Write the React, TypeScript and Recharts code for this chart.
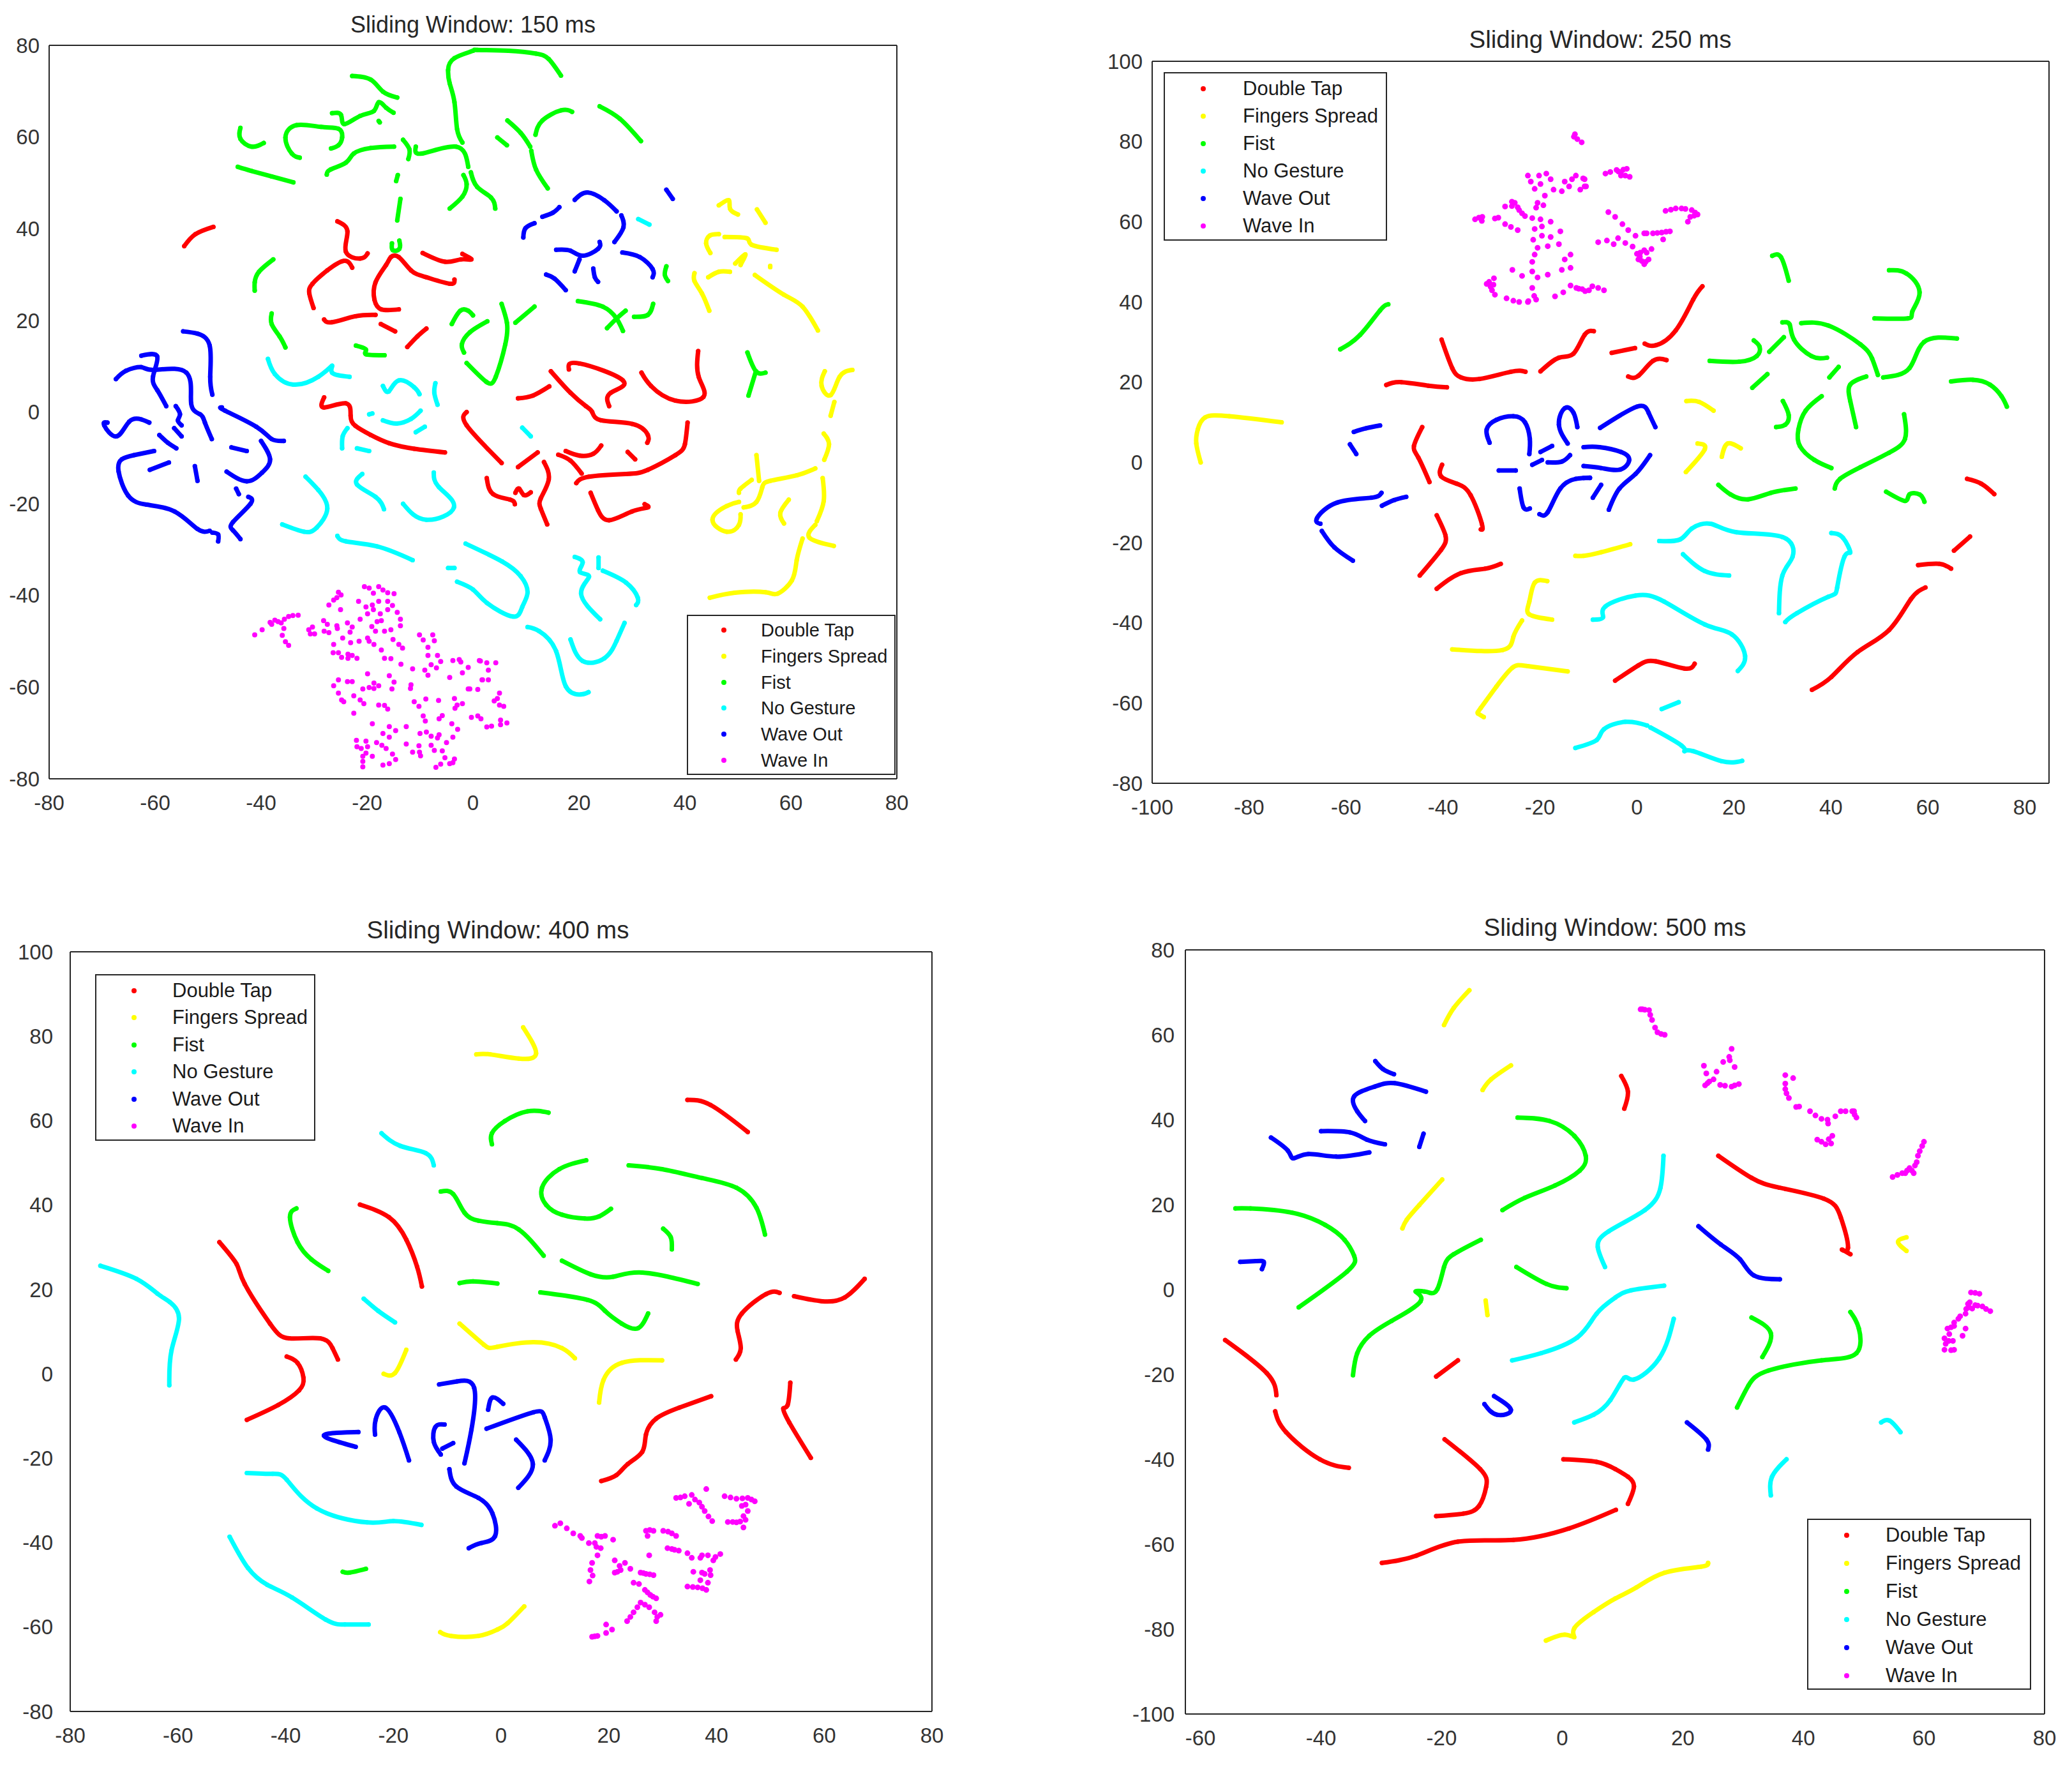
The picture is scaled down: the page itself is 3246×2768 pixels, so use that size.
import { ScatterChart, Scatter, XAxis, YAxis, Legend } from "recharts";

type Pt = [number, number];
type Stroke = Pt[];

const GESTURES = ["Double Tap", "Fingers Spread", "Fist", "No Gesture", "Wave Out", "Wave In"];
const COLORS = ["#ff0000", "#ffff00", "#00ff00", "#00ffff", "#0000ff", "#ff00ff"];
const FONT = "'Liberation Sans', Arial, sans-serif";
const INK = "#262626";

// ---------- 150 ms ----------
const doubleTap150: Stroke[] = [
  [[-54.5,36.2],[-52.4,38.8],[-49,40.4]],
  [[-25.6,41.6],[-23.7,39.4],[-24,35],[-21.3,33.5],[-19.9,34.6]],
  [[-30.1,22.7],[-30.9,25.9],[-30.3,28],[-27.5,30.9],[-24.3,33],[-22.8,31.5]],
  [[-14,22.4],[-17.3,22.4],[-18.6,24.5],[-18.4,28.3],[-16.4,32.1],[-15.5,33.8],[-14,33.8],[-11.7,30.9],[-8.8,29.4],[-4.4,28],[-3.5,28.9]],
  [[-9.5,34.7],[-5.3,32.8],[-2.3,33.3],[-0.3,33.3],[-2,34.5]],
  [[-28.1,20.2],[-26.6,19.6],[-22.2,20.9],[-18.4,21.2]],
  [[-17.4,19.2],[-14.7,17.6]],
  [[-12.4,14.2],[-10.5,16.5],[-8.8,18.2]],
  [[-28.1,3.2],[-28.1,1],[-24,1.9],[-23.1,-0.8],[-22.2,-3],[-19.3,-5],[-15.8,-6.8],[-11.1,-8],[-5.3,-8.8]],
  [[8.5,3],[11.3,3.6],[14.4,5.6]],
  [[14.7,8.9],[18.4,4.2],[21.3,1.3],[22.5,0],[24.2,-1.8],[30.1,-2.6],[33,-5],[32.9,-6.7]],
  [[18.1,9.3],[20.1,10.6],[28.3,6.9],[26,4.2],[25.7,1.3]],
  [[31.8,8.6],[33.6,5.7],[38.2,2.5],[43.5,3.3],[42.6,7.7],[42.5,13.3]],
  [[-1.2,0],[-1.2,-2.9],[5.4,-11.1]],
  [[8.5,-12],[12.2,-8.8]],
  [[13.4,-10.9],[14.3,-14.7],[12.8,-18.8],[12.8,-21.1],[14,-24.5]],
  [[2.6,-14.4],[3.8,-17.9],[7,-19.1],[7.9,-20.1]],
  [[8,-17.6],[8.7,-16.7],[9.6,-18.1],[10.9,-17.5]],
  [[16.1,-9.3],[18.4,-10.6],[20.5,-13.4]],
  [[17.5,-8.5],[20.1,-9.5],[22.7,-9.1],[24.2,-7.3]],
  [[29.2,-8.7],[30.6,-10.3]],
  [[19.5,-15.5],[21.9,-14.1],[28.9,-13.5],[33,-12.6],[38.2,-9.4],[40,-7],[40.5,-2.3]],
  [[22.2,-17.6],[23.6,-21.4],[25.7,-23.6],[30,-21.7],[33,-20.8],[32.4,-20.1]],
];
const fingers150: Stroke[] = [
  [[46.4,45.1],[48.3,46.2],[48.5,44.4],[50,43.1]],
  [[53.6,44.2],[55.2,41.3]],
  [[44.8,34.7],[44,36.8],[44.7,38.5],[46.4,38.8]],
  [[47.5,38.2],[51.7,37.9],[52.6,36.5],[57.3,35.4]],
  [[44.4,29.4],[46.4,30.6],[48.5,30.6]],
  [[49.5,32.4],[51.4,34.4],[50.5,32.1]],
  [[56.1,31.9],[56.1,31.6]],
  [[41.8,30.3],[41.8,28.6],[43.2,25.9],[44.6,22.1]],
  [[53.2,29.9],[58.7,25.6],[62.2,23],[65.1,17.8]],
  [[66.4,8.9],[65.8,5.7],[67.5,3.7],[69.2,7.7],[71.6,9.2]],
  [[68.2,2.2],[67.5,-0.8]],
  [[66.2,-4.7],[67.2,-7],[66.3,-10.4]],
  [[53.5,-9.4],[54,-15]],
  [[64.6,-12.3],[61.1,-13.8],[56.1,-15],[54.6,-16.4],[53.5,-19.6],[51.1,-20.8]],
  [[52.6,-14.8],[50.5,-16.7],[50.2,-17.6]],
  [[50.2,-19.6],[47.9,-20.5],[45.2,-23.5],[47.9,-26.1],[50.2,-24.6],[50.5,-22.3]],
  [[59.6,-19.1],[58,-22],[58.7,-24.3]],
  [[66,-14.4],[66.2,-19.4],[64.9,-23.8]],
  [[64.6,-24.6],[63.5,-27.4],[68.1,-29.2]],
  [[62.2,-27.6],[61.1,-32.3],[60.2,-36.7],[57.5,-39.6],[55.2,-39.3],[49.4,-39.4],[44.7,-40.5]],
];
const fist150: Stroke[] = [
  [[-2,58.8],[-3,61.7],[-3.5,67.6],[-4.4,71.7],[-4.7,74.6],[-3.5,77.2],[0,78.8],[0.8,79],[6.7,78.8],[11.9,78.2],[14.3,77],[16.6,73.4]],
  [[-22.8,73.3],[-19.3,72.5],[-17,69.9],[-14.3,68.6]],
  [[-26.6,65.2],[-24.9,64.8],[-24.3,62.8],[-21.3,64.6],[-18.7,65.7],[-17.8,67.6],[-16.4,66.4],[-15,65.3]],
  [[-17.8,63.5],[-17.6,63.2]],
  [[-32.7,55.5],[-34.2,56.4],[-35.4,59.9],[-33.3,62.6],[-28.7,62.2],[-25.4,61.8],[-24.7,59.9],[-25.4,58.2],[-26.8,57.5]],
  [[-43.9,62],[-43.9,59.6],[-41.8,57.9],[-39.5,58.7]],
  [[-44.4,53.5],[-41.8,52.6],[-38,51.4],[-33.9,50.1]],
  [[-27.6,51.8],[-26.9,52.9],[-24,54.4],[-22.5,56.4],[-19.3,57.6],[-14.9,57.9]],
  [[-13.2,59.4],[-12,57.3],[-12.2,55.2]],
  [[-10.8,57.9],[-9.6,56.4],[-3.2,57.9],[-0.9,53.5]],
  [[-14.2,51.7],[-14.5,50.4]],
  [[-13.7,46.5],[-14.3,41.8]],
  [[-15.3,36.8],[-15.1,35.3],[-13.9,35.6],[-13.9,37.4]],
  [[-37.7,33.3],[-40.4,30.6],[-41.2,28.3],[-41.2,26.5]],
  [[-38,21.5],[-38,19.2],[-36.5,16.5],[-35.4,14.1]],
  [[-22.1,14.5],[-20.2,13.6],[-20.2,12.6],[-16.7,12.4]],
  [[-1.8,51.7],[-1.2,49.7],[-2,47],[-4.4,44.4]],
  [[-0.4,52.3],[0.8,49.1],[3.4,46.8],[4.2,44.4]],
  [[4.6,59.9],[6.4,58.2]],
  [[6.5,63.6],[9,60.9],[10.8,57.9]],
  [[11,57],[11.9,52.9],[14.1,48.8]],
  [[11.8,60.5],[13.1,63.6],[16.6,65.8],[18.7,65.5]],
  [[23.9,66.7],[27.7,64],[31.7,59.1]],
  [[-4,19.2],[-2.4,22.1],[-0.9,22.1],[0,21.1]],
  [[2.7,19.8],[-0.6,17.4],[-2.1,14.8],[-1.7,13]],
  [[5.4,23.6],[6.4,19.5],[6.1,14.8],[4.3,7.7],[2.5,6.6],[-1.2,10.7]],
  [[8,19.5],[11.6,23]],
  [[19.8,24.2],[24.5,23],[27.1,20.4],[28.3,17.7]],
  [[25.3,18.3],[27.1,20.4],[28.8,22.1]],
  [[30.4,20.8],[33,21.2],[34,23.6]],
  [[36.5,31.8],[36.2,30],[36.8,28.6]],
  [[51.8,13],[53.4,8.9],[55.2,8.6]],
  [[53.4,8.9],[52,3.6]],
];
const noGesture150: Stroke[] = [
  [[-38.7,11.6],[-37.4,8.3],[-33.9,6],[-29.2,7.7],[-26.6,10.1],[-26.6,8.6],[-23.3,7.7]],
  [[-17,5.7],[-15.9,4.5],[-14,6.9],[-11.1,5.4],[-10.1,3.9]],
  [[-7.1,6.3],[-7.3,4.2],[-6.7,1.6]],
  [[-19.6,-0.5],[-19,-0.3]],
  [[-17,-1.8],[-14.4,-2.5],[-11.7,-1.5],[-9.9,0.3]],
  [[-10.8,-4.4],[-9.1,-3.2]],
  [[-23.7,-3.5],[-24.6,-5.3],[-24.7,-7.9]],
  [[-21.9,-7.9],[-19.6,-8.5]],
  [[-31.6,-14.1],[-29.2,-17],[-27.5,-21.1],[-29.5,-25.2],[-31.9,-26.1],[-36,-24.5]],
  [[-20.9,-13.5],[-21.9,-15.8],[-18.4,-18.5],[-16.8,-21.2]],
  [[-7.4,-13.2],[-6.4,-16.4],[-3.6,-20.8],[-8.8,-23.5],[-13.2,-20]],
  [[-25.6,-27],[-24,-28.2],[-18.1,-29.3],[-11.4,-32.3]],
  [[-4.7,-34],[-3.5,-34]],
  [[-1.4,-28.7],[5.5,-32.6],[9,-35.8],[10.3,-39.3],[9.3,-42.5],[7.5,-44.6],[2.6,-41.6],[0,-38.7],[-3,-37]],
  [[9.3,-3.4],[10.9,-5.3]],
  [[19.2,-31.6],[20.7,-32.8],[20.2,-34.9],[21.9,-35.9],[20.4,-39.6],[24,-45.2]],
  [[23.7,-31.7],[23.7,-34]],
  [[24.5,-34.6],[28.9,-37.2],[31.1,-40.5],[30.8,-42.1]],
  [[28.6,-46],[27.1,-49.9],[24.8,-53.7],[20.7,-54.3],[18.4,-49.6]],
  [[10.3,-46.9],[12.5,-47.8],[15.7,-52.2],[17.5,-59.8],[20.4,-61.6],[21.8,-61.1]],
  [[31.2,42.1],[33.3,40.9]],
];
const waveOut150: Stroke[] = [
  [[19.2,46.3],[21.6,47.9],[24.8,46.2],[27.1,43.8]],
  [[28,42.9],[28.4,40.3],[26.7,37.1]],
  [[16.3,44.7],[15.1,43.5],[13.1,42.6]],
  [[11.6,41.2],[9.9,40.1],[9.5,38.1]],
  [[15.7,35.4],[18.4,35.2],[20.7,34.1],[23.6,35.6],[23.9,37.1]],
  [[20.1,33.3],[19.2,30.7]],
  [[22.7,31.3],[23,29.4],[23.6,28.4]],
  [[28.2,34.8],[31.5,33.8],[33.9,31.2],[33.9,29.4]],
  [[13.8,30],[15.4,29.1],[17.5,26.6]],
  [[36.5,48.5],[37.7,46.5]],
  [[-67.4,7.2],[-65.5,9],[-62.6,9.8],[-60.2,9.2],[-54.1,8.6],[-53.2,1.9],[-51.5,-0.5],[-50.6,-2.3],[-49.3,-5.9]],
  [[-62.6,12.3],[-59.6,12.1],[-60.4,7.7],[-59.6,4.8],[-57.9,1.3]],
  [[-54.7,17.6],[-52,17.1],[-49.7,14.5],[-49.6,7.7],[-49.2,3.8]],
  [[-56.1,1.3],[-55.3,-0.5],[-55.7,-1.8],[-55,-2.9]],
  [[-56.4,-3.5],[-55,-5.3]],
  [[-47.4,1],[-46.8,0.3],[-40.9,-3.2],[-38,-5.9],[-35.7,-6.3]],
  [[-69,-2.3],[-69.6,-2.9],[-67.3,-5.3],[-64.9,-2.1],[-62.6,-1.6],[-61.1,-2.3]],
  [[-59.2,-5],[-57.6,-6.7],[-56,-7.9]],
  [[-60.2,-8.5],[-64,-9.4],[-66.3,-10.3],[-66.9,-12.9],[-65.1,-18.2],[-61.6,-20.2],[-56.3,-21.7],[-52,-25.5],[-49.7,-25.9]],
  [[-61,-12.6],[-57.4,-11]],
  [[-52.5,-11.8],[-52,-15]],
  [[-45.6,-7.7],[-42.7,-8.5]],
  [[-40,-6.3],[-38.3,-10.3],[-39.8,-13.2],[-42.7,-15.1],[-46.5,-13]],
  [[-44.7,-16.7],[-44.2,-17.9]],
  [[-42.4,-18.5],[-42,-20],[-45.3,-24],[-45.3,-25.8],[-43.9,-27.7]],
  [[-49.2,-26.3],[-48.1,-26.7],[-48.1,-28.2]],
];
const waveIn150: Pt[] = [
  [-41.2,-48.6],[-39.8,-47.5],[-38,-46.3],[-38.3,-45.9],[-36.8,-45.7],[-37.4,-45.4],[-36.2,-46],[-35.6,-45.2],[-34.8,-44.6],[-34,-44.4],[-33,-44.3],
  [-35.7,-47.2],[-36,-48.7],[-35.4,-50.1],[-34.8,-50.9],[-31,-47.5],[-30.3,-46.9],[-30.7,-48.4],[-29.9,-48.4],
  [-28.2,-45.5],[-27.5,-46.3],[-28.1,-47.8],[-27.2,-48.1],[-25.7,-46.6],[-25.6,-47.2],[-23.7,-46],[-22.8,-46.9],[-23.2,-48],
  [-27.2,-42.1],[-26.3,-41],[-25.4,-39.3],[-24.9,-39.9],[-25.7,-40.5],[-25,-43.1],[-24.6,-49.3],[-23.1,-50.3],[-21.5,-50],[-26.3,-50.7],[-26.4,-52.5],[-25.4,-52.5],[-24.8,-53.5],[-23.6,-52.8],[-22.8,-53.1],[-21.9,-53.7],[-23.6,-53.7],
  [-20.5,-38.1],[-19.6,-38.4],[-18.8,-39.5],[-17.8,-38.1],[-17,-38.8],[-16.1,-39.4],[-14.9,-39.6],
  [-21.6,-41.3],[-20.2,-42.5],[-19,-42.1],[-17.8,-41.3],[-16.1,-41.3],[-15.2,-42.2],[-19.9,-44],[-18.8,-43.1],[-17.5,-44],[-16.1,-43.1],[-14.3,-43.7],[-13.7,-45.2],[-21.3,-45.2],[-18.1,-45.7],[-17.3,-45.5],[-19.1,-46.8],[-18.4,-47.8],[-16.7,-47.8],[-15.5,-47.5],[-13.7,-46.6],
  [-19.9,-49.3],[-19.6,-50],[-18.7,-50.7],[-15.1,-49.6],[-14,-50.7],[-13.3,-51.5],[-17.3,-51.9],[-16.7,-53.7],[-15.5,-53.8],
  [-13.6,-55],[-11.4,-56],[-10.1,-48.6],[-9.4,-49.7],[-7.6,-48.6],[-7.3,-49.9],[-8.5,-51.3],[-8.5,-53.1],[-6.7,-53.1],[-6.1,-54.4],[-7.9,-55.1],[-6.9,-55.8],[-9.1,-56.3],[-8.5,-57.4],
  [-3.8,-54.2],[-2.6,-54],[-2.3,-54.5],[1.2,-54.2],[-0.9,-55.7],[-2,-56.9],[-4.4,-57.9],[1.8,-58.4],
  [-19.9,-57.1],[-15.8,-57.5],[-25.4,-58.4],[-23.7,-58.8],[-22.8,-58.8],[-26.3,-59.7],[-25.4,-61.3],[-24.8,-62.8],[-24.4,-63.2],
  [-20.8,-60.4],[-19.6,-60.1],[-18.7,-59.1],[-17.8,-59.7],[-18.7,-60.3],[-14.9,-58.9],[-15.3,-60.4],[-11.7,-59.5],[-11.8,-60.3],
  [-22.5,-61.9],[-21.3,-62.8],[-20.6,-63.6],[-17.8,-63.9],[-16.7,-64],[-16.1,-64.8],[-22.5,-65.7],[-11.1,-63.2],[-10.2,-64.2],[-8.9,-62.6],[-6.5,-62.9],[-3.5,-62.5],[-3,-63.9],[-2,-63.6],[-3.4,-64.6],
  [-0.9,-60.4],[0.9,-60.5],
  [-9.4,-66.3],[-9,-67.4],[-6.4,-66.9],[-5.8,-66.2],[-19,-68],[-15.8,-68.6],[-12.6,-68.6],[-4,-68],[-2.9,-69.2],
  [-0.3,-66.6],[0.9,-66.3],[1.5,-66.9],
  [-17,-70.1],[-14.6,-69.5],[-15.8,-70.9],[-10,-70.1],[-8.8,-69.8],[-7.9,-70.7],[-6.4,-70.4],[-6.7,-71.1],[-3.8,-70.9],
  [-22,-71.6],[-20.2,-71.8],[-21.9,-73],[-21.1,-73.4],[-19.9,-73],[-18.2,-72.1],[-17.2,-72.7],[-16.4,-73.4],[-12.6,-72.4],[-10.2,-72.8],[-7.9,-72.7],[-7.3,-73.8],[-5,-72.1],[-5.8,-73.9],
  [-11.4,-74.2],[-10.1,-74.2],[-9.9,-75],[-20.2,-74.4],[-20.8,-75.1],[-19,-75.1],[-15.2,-74.6],[-20.8,-76.2],[-20.8,-77.4],[-17,-77],[-15.8,-76.7],[-14.6,-75.8],[-7,-77.5],[-6.1,-76.8],[-5.3,-75.4],[-4.4,-76.7],[-3.5,-75.7],[-3.8,-76.5],
  [1.4,-54.3],[2.6,-54.7],[4.3,-54.7],[2.9,-56.3],[1.7,-58.4],[2.9,-58.4],[-0.6,-60.4],[5,-61.3],[4,-63],[5,-63.9],[5.8,-64.2],[4.6,-62.5],
  [2.6,-68.7],[3.5,-68.5],[5.2,-67.2],[5.2,-68.2],[6.4,-67.8],
];

// ---------- 250 ms ----------
const doubleTap250: Stroke[] = [
  [[-40.3,30.6],[-38.1,23.5],[-36.3,21.2],[-32.5,20.8],[-26,22.6],[-23,22.6]],
  [[-51.7,19.3],[-48.6,20],[-43,19.1],[-39.2,18.7]],
  [[-19.9,22.7],[-16.1,26.1],[-13.1,27.1],[-10.8,31.8],[-8.9,32.7]],
  [[-5.2,27.3],[-0.4,28.5]],
  [[1.6,29.6],[3.9,29.2],[8,32.9],[11.6,40.6],[13.5,43.9]],
  [[-1.8,21.4],[0.3,21.6],[3.3,25.3],[6.1,25.5]],
  [[-44.3,8.8],[-46,4.1],[-45.1,1.2],[-42.8,-4.9]],
  [[-40.2,-0.6],[-40.4,-3.5],[-37.2,-5.3],[-34.3,-8.2],[-32,-15.3],[-32.2,-16.7]],
  [[-41.3,-13.2],[-39.5,-18.2],[-40.4,-21.8],[-44.8,-28.2]],
  [[-41.3,-31.5],[-36.3,-27.6],[-31.3,-26.5],[-28.1,-25.3]],
  [[-4.5,-54.4],[0.3,-50.6],[3.9,-49.6],[9.8,-51.4],[11.9,-50.2]],
  [[36.1,-56.7],[40.1,-53.5],[45.5,-47.3],[52,-41.8],[56.5,-34.1],[59.5,-31.2]],
  [[58,-25.6],[62.4,-25.3],[64.8,-26.5]],
  [[65.4,-22],[68.7,-18.5]],
  [[68.1,-4.1],[71,-5.3],[73.7,-7.9]],
];
const fingers250: Stroke[] = [
  [[-73.3,10],[-84.1,11.5],[-89.1,11.2],[-90.6,8.2],[-90.9,4.7],[-90,0]],
  [[-38.1,-46.6],[-27.8,-46.8],[-25.5,-43.5],[-23.7,-39.4]],
  [[-31.6,-63.5],[-32.8,-62.6],[-32.2,-61.2],[-29,-55.9],[-25.7,-51.2],[-22.5,-50.8],[-14.3,-52.1]],
  [[-17.5,-39.2],[-22.2,-37.9],[-22.2,-34.7],[-21.1,-30],[-18.5,-29.6]],
  [[-12.7,-23.3],[-11,-23.3],[-7.4,-22.4],[-1.4,-20.4]],
  [[10.2,15.3],[12.8,15.1],[15.8,12.9]],
  [[12.5,4.7],[14,3.3],[10.1,-2.4]],
  [[17.5,1.4],[18.7,4.7],[21.4,3.5]],
];
const fist250: Stroke[] = [
  [[-61.2,28.2],[-57.1,31.8],[-53,37.9],[-51.3,39.4]],
  [[27.9,51.5],[29.7,51.2],[31.3,45.3]],
  [[52,47.9],[55.6,47.1],[58.3,42.4],[56.8,37.6],[55.9,35.9],[49,35.9]],
  [[15,25.3],[21.1,25.1],[24.7,26.5],[25.3,28.8],[24.1,30.4]],
  [[27.3,27.6],[30.3,31.2]],
  [[30,34.9],[31.5,34.4],[32.4,30.6],[36,26.5],[39.2,26.1]],
  [[33.9,34.7],[39.5,34.1],[46.1,29.4],[48.5,25.9],[49.7,21.8]],
  [[50.8,21.2],[56.2,23.5],[59.2,30],[66,30.9]],
  [[39.7,21.2],[41.6,23.8]],
  [[23.8,18.6],[26.9,22]],
  [[47.3,21.4],[44,19.4],[44,15.3],[45.2,8.8]],
  [[64.8,20.2],[69.3,20.6],[72.8,19.4],[75.2,16.5],[76.3,13.9]],
  [[30.1,15.3],[31.3,11.8],[30.6,9.4],[28.7,8.8]],
  [[38.1,16.5],[34.8,12.9],[33.3,8.2],[33.6,4.1],[36.6,0.6],[40.1,-1.4]],
  [[55.1,12],[55.3,5.9],[52,2.4],[46.1,-1.2],[41.9,-4.1],[40.8,-6.5]],
  [[16.8,-5.6],[19.3,-8],[22.9,-9.2],[27.6,-7.6],[32.7,-6.5]],
  [[51.4,-7.3],[55.3,-9.6],[56.2,-8],[58.3,-8],[59.3,-9.8]],
];
const noGesture250: Stroke[] = [
  [[4.6,-19.6],[8.9,-19.2],[11.3,-16.5],[15.2,-15.3],[20.5,-17.4],[30,-18.6],[32.1,-23.5],[30,-28.2],[29.3,-37.6]],
  [[9.5,-22.9],[14,-27.1],[19,-28.2]],
  [[40.1,-17.6],[42.5,-18.8],[44,-22.4],[42.8,-23.5],[41.3,-31.2],[39.5,-33.5],[33,-37.6],[30.6,-39.8]],
  [[-9.1,-39.2],[-7,-38.6],[-6.5,-35.9],[-0.3,-33.2],[5.6,-34.7],[14,-40.4],[19.6,-42.9],[22.3,-48.2],[20.8,-52]],
  [[5.1,-61.5],[8.6,-59.8]],
  [[-12.7,-71.2],[-8.3,-69.2],[-6.8,-66.5],[-2.4,-64.7],[2.1,-65.6]],
  [[2.8,-66.1],[9.2,-70.6],[9.8,-72],[11.6,-72],[17.5,-74.5],[21.7,-74.4]],
];
const waveOut250: Stroke[] = [
  [[-58.4,7.6],[-55.9,8.5],[-53,9.2]],
  [[-59.2,4.5],[-57.9,2.1]],
  [[-52.7,-7.6],[-54.8,-8.8],[-61.8,-10],[-66,-13.9],[-65.3,-15.3]],
  [[-65,-17.1],[-62.4,-21.2],[-58.6,-24.5]],
  [[-52.6,-10.8],[-50.1,-9.4],[-47.6,-8.6]],
  [[-30.4,4.9],[-31,8.2],[-29,10.6],[-25.5,11.5],[-23.1,10],[-22.1,5.9],[-22.2,2.1]],
  [[-19.9,2.6],[-17.5,4.1]],
  [[-21.6,-0.6],[-19.6,0.6]],
  [[-18.4,0],[-15.5,0.2],[-13.8,1.8]],
  [[-28.5,-2],[-25,-2]],
  [[-24.2,-6.5],[-23.4,-11.2],[-22.1,-11.5]],
  [[-20.1,-12.9],[-18.4,-12.4],[-15.8,-6.5],[-12.6,-4.1],[-9.7,-3.8]],
  [[-14.3,4.7],[-16.1,9.4],[-14.9,13.5],[-13.1,12.4],[-12.3,8.8]],
  [[-7.6,8.6],[0,13.9],[2.4,12.4],[3.8,8.8]],
  [[-11,3.8],[-7.7,3.8],[-3.3,2.6],[-1.6,0.6],[-3.5,-1.8],[-7.4,-1.4],[-11,-0.9]],
  [[-11,-3.9],[-9.7,-3.9]],
  [[-9.1,-8.8],[-7.4,-5.6]],
  [[-5.8,-11.8],[-3.6,-6.5],[-0.3,-2.9],[2.7,1.8]],
];
const waveIn250: Pt[] = [
  [-12.8,81.8],[-13,81.2],[-12.3,80.6],[-11.4,79.8],[-22.5,71.5],[-21.9,70],[-20.2,71.5],[-18.7,72],[-17.8,70.6],[-19.9,69.4],[-21.1,68.2],[-17.2,68],[-15.5,67.6],[-14.9,70],[-13.4,70.6],[-12.6,71.5],[-11.1,70.8],[-10.5,68.8],[-14,68.8],[-11.7,68],
  [-20.5,64.7],[-19,66.5],[-20.8,63.5],[-19.3,64.1],[-27.2,63.8],[-25.2,64.7],[-25.8,63.9],[-25.8,65],[-24.6,63.6],[-24.3,62.9],[-23.7,62.1],[-23.1,61.4],[-21.6,60.9],[-33.4,60.6],[-32.6,61],[-32,60.2],[-31.9,61.2],[-29.3,60.8],[-28.6,61],[-27.2,59.4],[-26,58.7],[-24.6,57.9],
  [-19.9,60.6],[-21.1,58.2],[-19.6,58.8],[-17.8,60],[-15.8,57.6],[-21.4,55.5],[-19.6,56.5],[-17.8,56.2],[-18.4,53.9],[-16.1,54.4],[-20.5,53.5],[-21.1,51.8],[-21.6,50],
  [-13.7,51.8],[-14.9,50.6],[-15.5,48],[-13.7,48.5],[-25.7,48],[-23.7,46.5],[-21.6,47.6],[-20.5,46.1],[-18.4,46.8],[-21.6,43.5],
  [-31,44.5],[-30.5,45],[-30.2,43.8],[-29.6,44.3],[-29.5,45.9],[-29.9,42.9],[-29.3,41.8],[-26.9,40.9],[-25.5,40.3],[-24.3,40],[-22.5,40],[-22.4,40.2],[-21.2,41.5],[-20.8,40.6],[-16.9,41.4],[-15.2,42.4],[-13.7,44.1],[-12.5,43.5],[-12,43.3],[-11.3,43.2],[-10.7,42.7],[-9.9,42.9],
  [-9.2,43.9],[-8,43.5],[-6.8,42.9],[-6.5,72],[-5.5,72.4],[-4.2,72.9],[-3.8,72.5],[-2.8,73],[-3.3,72.3],[-2.4,71.5],[-2.1,73.2],[-1.5,71.2],[-3.3,71.5],[-5.9,62.4],[-4.5,61.2],
  [5.9,62.7],[7,63],[8,63.3],[9.2,63.3],[10,63.2],[11.3,62.9],[12,62.3],[12.5,61.8],[11.8,61.5],[11,61.2],[10.5,60],[-3,59.4],[-1.8,57.9],[-0.3,56.5],[1.5,57.1],[2,57.1],[3.3,57.1],[4.2,57.2],[5.1,57.3],[6,57.5],[6.8,57.6],[5.4,55.6],
  [-8,54.9],[-6.2,55.3],[-4.8,54.4],[-3.9,55.9],[-2.4,54.7],[-0.9,53.8],[0,52],[0.7,52.3],[1.5,52.9],[2,52.3],[3,53.2],[0.3,50.6],[0.6,51.3],[1,50.2],[1.8,50],[1.5,49.4],[2.4,50.6],[-10.8,70.6],[-10.8,68.8],
];

// ---------- 400 ms ----------
const doubleTap400: Stroke[] = [
  [[-52.3,31.2],[-49.1,26],[-47.6,21.3],[-42.9,11.9],[-39.3,8.4],[-33.6,8.4],[-31.3,6.1],[-30.3,3.4]],
  [[-26.2,40.1],[-20.8,37.1],[-17.6,31.8],[-15.6,25.4],[-14.7,20.7]],
  [[-39.8,4.1],[-37.8,2.6],[-36.7,-0.9],[-37.5,-3.9],[-41.4,-7.4],[-47.2,-10.9]],
  [[34.6,64.9],[38.9,63.7],[45.8,57.3]],
  [[51.7,19.2],[49.2,18.9],[44.7,14.3],[43.9,10.2],[44.5,6.1],[43.6,3.4]],
  [[54.4,18.4],[59.6,17.2],[63.8,18.1],[67.5,22.5]],
  [[53.7,-2.1],[53.2,-7.4],[52.4,-8.2],[53.5,-11.5],[57.5,-19.9]],
  [[39,-5.3],[33.1,-8],[28.8,-10.6],[26.9,-14.4],[26.2,-18.5],[23.5,-21.4],[21.4,-24],[18.6,-25.4]],
];
const fingers400: Stroke[] = [
  [[-4.6,75.7],[-2,75.7],[3.3,74.7],[6.5,75.9],[4.1,82.1]],
  [[-7.7,11.9],[-3.2,6.9],[-0.7,6.4],[6,7.5],[11.3,6.1],[13.7,3.7]],
  [[-21.8,0],[-19.7,0.2],[-17.6,5.7]],
  [[18.2,-6.8],[19,-1.5],[22.4,2.6],[29.9,3.2]],
  [[-11.3,-61.2],[-9.3,-62.1],[-4.2,-62.1],[-0.7,-60.6],[1.2,-59.1],[4.3,-55.1]],
];
const fist400: Stroke[] = [
  [[-38,39.2],[-39.2,37.1],[-37.8,31.2],[-35.2,27.1],[-32.1,24.4]],
  [[-11.2,43.2],[-8.9,42.6],[-6.8,38.2],[-4.2,36.3],[-0.7,35.7],[3.3,34.2],[7.9,28]],
  [[-29.4,-46.9],[-28.2,-47.1],[-25.1,-46.2]],
  [[-7.7,21.5],[-5.2,21.9],[-0.7,21.4]],
  [[-1.7,54.4],[-1.7,57],[0.7,59.9],[4.9,62.2],[8.8,61.9]],
  [[15.8,50.6],[10.8,48.5],[7.6,44.1],[8.4,40],[11.3,37.7],[15.5,36.8],[18.2,37.3],[20.4,39.1]],
  [[23.7,49.4],[29.9,48.5],[37.3,46.4],[43.7,44.1],[47.4,39.4],[49,33]],
  [[30.1,34.4],[31.5,32.4],[31.7,29.5]],
  [[11.3,26.8],[16.6,23.6],[20.8,23],[26.2,24],[36.5,21.3]],
  [[7.3,19.3],[16.1,17.5],[19.3,14.9],[22.4,11.9],[25.4,10.8],[27.3,14.3]],
];
const noGesture400: Stroke[] = [
  [[-74.4,25.6],[-67.7,22.5],[-63.8,19],[-61.5,17],[-59.8,13.1],[-61.2,5.5],[-61.6,-2.7]],
  [[-22.2,57],[-18.7,54],[-14,52.3],[-12.5,49.4]],
  [[-25.5,17.8],[-22.8,14.9],[-19.7,12.2]],
  [[-47.2,-23.5],[-42.4,-23.7],[-39.8,-25.1],[-34.2,-31.9],[-24.9,-35.2],[-20,-34.9],[-14.8,-35.8]],
  [[-50.4,-38.6],[-47,-46],[-43.4,-50],[-38.8,-53],[-32.6,-58.2],[-29,-59.4],[-24.6,-59.4]],
];
const waveOut400: Stroke[] = [
  [[-26.5,-13.8],[-32.9,-14.6],[-27,-17.3]],
  [[-23.4,-14.4],[-23.3,-10.9],[-21.5,-8],[-18.9,-13.8],[-17.1,-20.5]],
  [[-10.5,-12],[-12.2,-12.6],[-12.5,-16.1],[-11.2,-19.1]],
  [[-8.9,-16.4],[-10.9,-17.7]],
  [[-11.5,-2.5],[-8.2,-1.8],[-5,-3.3],[-5.5,-13.2],[-6.8,-21.2]],
  [[-9.6,-22.6],[-8.3,-26.7],[-4.2,-29.4],[-1.6,-33.1],[-1.1,-38.4],[-3.7,-40.1],[-6,-41.3]],
  [[-2.4,-8.5],[-1.6,-5.6],[0.4,-7.1]],
  [[-2.7,-13],[6,-9.1],[8.1,-10.3],[9.2,-15.6],[8.1,-20.5]],
  [[2.8,-15.6],[5.9,-21.4],[3.2,-27]],
];
const waveIn400: Pt[] = [
  [10,-36],[11,-35.4],[12.2,-36.6],[13.4,-37.8],[14.7,-38.4],[15,-38.9],[16.3,-40.1],[17.9,-38.4],[18.6,-38.6],[19.3,-38.4],[20.8,-39.3],[17.4,-40.1],[18.5,-41.3],[17.7,-41],[17.9,-43],[16.9,-44.8],[16.6,-46.5],[17,-47.8],[16.4,-49.2],
  [21.1,-44.2],[21.1,-47.1],[21.6,-46.9],[22,-45.5],[22.2,-46.5],[23,-44.8],[24,-46.2],[25.9,-47.1],[26.4,-47.2],[26.9,-47.4],[27.6,-47.5],[28.3,-47.7],[24.6,-49.5],[25.6,-49.8],[26.7,-51.2],[27.2,-51.8],[27.7,-52.4],[28.2,-52.8],[28.8,-53.2],
  [26.9,-37.2],[27.6,-37],[28.3,-37.2],[27.2,-38.4],[27.5,-43],[30.1,-37.2],[31,-37.4],[31.7,-37.8],[32.5,-38.4],[30.9,-41.3],[31.7,-41.5],[32.2,-41.7],[33,-41.9],[34.6,-42.5],[35.4,-43.6],[37,-43.6],[37.3,-43],[38.4,-43],[39.8,-43.4],[39.4,-44.2],[40.7,-42.7],
  [35.7,-46.9],[37.3,-47.1],[37.8,-47.4],[38.8,-46.5],[38.9,-47.7],[37,-48.9],[38.4,-49.5],[34.6,-50.4],[35.6,-50.5],[36.5,-50.6],[37.4,-50.8],[38.1,-51.2],
  [32.5,-29.4],[33.3,-29.3],[34.1,-29],[35.4,-28.7],[34.9,-30.8],[36,-29.8],[36.8,-30.5],[37.3,-31.5],[37.8,-32.5],[38.5,-33.8],[39.2,-34.9],[38.1,-27.3],
  [41.5,-29],[42.6,-29.3],[43.7,-29.6],[44.8,-29.5],[45.8,-29.4],[46.5,-29.8],[47.1,-30.2],[44.7,-31.3],[45.4,-31],[45.8,-32.5],[45,-33.7],[45.4,-34.6],[42.1,-35.1],[43,-35.1],[43.7,-35.2],[44.4,-35],[45,-36.4],
  [25.9,-54.2],[25.3,-55.3],[24.6,-56.5],[24,-57.6],[23.4,-58.6],[26.7,-54.7],[28.5,-56.5],[28.8,-58.6],[29,-57.6],[29.6,-57.1],[27.5,-55.3],
  [16.9,-62.3],[17.4,-62.2],[17.9,-62.1],[19.5,-59.4],[19.5,-61.4],[20.6,-60.6],
];

// ---------- 500 ms ----------
const doubleTap500: Stroke[] = [
  [[-55.9,-11.9],[-49,-19.7],[-47.4,-24.9]],
  [[-47.6,-28.7],[-45.8,-33.6],[-40.2,-40],[-35.4,-42]],
  [[-20.9,-20.5],[-17.3,-16.7]],
  [[-19.5,-35.3],[-13.6,-42.3],[-12.6,-46.4],[-13.8,-51],[-16.4,-52.8],[-20.9,-53.4]],
  [[-29.9,-64.4],[-24.2,-62.7],[-17.3,-59.4],[-8.1,-59],[1.1,-56.3],[8.9,-51.9]],
  [[0.2,-40],[5.7,-40.6],[8.8,-42.3],[10.9,-44.1],[11.9,-46.4],[10.9,-50.5]],
  [[9.8,50.3],[10.9,46.6],[10.3,42.6]],
  [[25.9,31.5],[31.4,26.3],[36,24],[43.4,21.4],[46.2,17],[47.4,9.8],[46.4,9.4],[47.8,8.3]],
];
const fingers500: Stroke[] = [
  [[-15.4,70.5],[-18,66.3],[-19.6,62.3]],
  [[-8.5,52.8],[-11.8,49.5],[-13.2,47]],
  [[-19.9,25.9],[-23.7,19.9],[-25.8,16.4],[-26.5,14.4]],
  [[-12.7,-2.6],[-12.4,-6]],
  [[-2.7,-82.7],[0.4,-81.3],[2,-81.9],[2,-79.8],[5.2,-76],[8.8,-72.8],[12.3,-70.2],[17,-66.7],[23,-65.3],[24.2,-64.4]],
  [[57.1,12.3],[55.7,11.2],[57.1,9.1]],
];
const fist500: Stroke[] = [
  [[-7.4,40.5],[-2.1,39.7],[2,36.2],[3.9,31.5],[2.9,28],[-1.2,24.5],[-6.2,21.6],[-9.9,18.7]],
  [[-54.2,19.1],[-51.7,19.1],[-44.8,18.1],[-39.3,15.2],[-36.1,11.7],[-34.5,7.9],[-35.7,4.2],[-43.7,-4.2]],
  [[-13.5,11.7],[-18,8.3],[-19.6,5.3],[-20.7,0.1],[-21.9,-0.8],[-22.8,-0.5],[-24.3,-0.5],[-23.5,-2.8],[-28.3,-7.4],[-32,-10.9],[-34,-15],[-34.7,-20.2]],
  [[-7.6,5.3],[-2.6,1.3],[0.7,0.3]],
  [[31.4,-6.6],[34.6,-10.3],[33.2,-15.9]],
  [[47.8,-5.3],[49.2,-9.2],[48.8,-15],[43,-16.7],[34.2,-19.1],[30.9,-22.6],[29,-27.8]],
];
const noGesture500: Stroke[] = [
  [[16.8,31.5],[16.3,24],[13.7,18.7],[7.7,13.7],[5.9,10],[7.1,5.3]],
  [[-8.3,-16.7],[-3.5,-15],[2.5,-11.3],[5.7,-5.7],[8.8,-1.9],[11.4,-0.2],[16.9,0.9]],
  [[2,-31.3],[5.2,-29.5],[8,-26],[10.3,-20.8],[11.9,-21.2],[16.1,-16.2],[18.5,-6.9]],
  [[52.9,-31.3],[54.3,-30.9],[56.1,-33.6]],
  [[37.2,-40],[34.8,-44.1],[34.6,-48.5]],
];
const waveOut500: Stroke[] = [
  [[-31,53.8],[-29.7,51.9],[-27.9,50.7]],
  [[-22.6,46.6],[-27.8,48.6],[-31.1,47.8],[-34.5,45.5],[-34,42],[-32.7,39.7]],
  [[-40,37.3],[-35.2,37],[-32.4,35.3],[-29.4,34.2]],
  [[-48.3,35.8],[-45.5,32.7],[-44.6,30.9],[-42.1,31.9],[-37.5,31.3],[-32,32.3]],
  [[-23,36.7],[-23.7,33.6]],
  [[-53.4,6.5],[-50.8,6.7],[-49.5,6.5],[-49.8,4.8]],
  [[-12.9,-27],[-10.8,-29.5],[-8.5,-28.4],[-11.3,-25.1]],
  [[22.6,14.9],[26.3,10.6],[29.5,7.1],[31.8,3.3],[36.1,2.4]],
  [[20.7,-31.3],[23.9,-35.3],[24.2,-37.7]],
];
const waveIn500: Pt[] = [
  [13,66],[13.3,66],[13.7,65.9],[14.4,65.8],[14.6,64.7],[14.9,63.5],[15.4,61.7],[15.8,60.6],[16.4,60.2],[17,60],
  [23.5,52.7],[23.9,50.9],[25.6,51.3],[25.1,49.5],[24.1,48.6],[23.7,48.1],[26.7,53.6],[27.7,54.8],[28.1,56.7],[27.8,54],[28.6,52.4],[26.2,48.2],[27,48],[28.1,47.8],[28.6,48.1],[29.3,48.4],[24.4,49],
  [37,50.5],[38.3,49.8],[37,48.5],[37,47.2],[37.2,46.2],[37.6,45.1],[38.8,43],[39.3,43.1],[41.1,42],[42,41],[43,40.2],[44,40],[44.1,39.1],[45.3,40.8],[46.2,42],[47,42],[48.1,42],[48.4,42],[48.5,41.2],[48.8,40.5],
  [42.3,35.3],[43,34.8],[43.7,34.2],[44.2,35.4],[44.8,36.2],[44.6,34.4],
  [54.8,26.5],[55.6,27],[56.4,27.4],[57.2,28],[57.6,28.6],[58,28],[58.5,29.2],[58.3,27.4],[58.8,30],[59,31.5],[59.3,32.6],[59.7,33.8],[60,34.8],[56.9,27.4],
  [67.8,-0.7],[68.5,-0.8],[69.2,-1],[67.6,-3],[67.3,-3.4],[68,-4.5],[67.5,-4.2],[66.9,-5.7],[67,-4.6],[68.5,-3.7],[68.9,-3.8],[69.7,-4],[70.3,-4.6],[71,-5.1],[66,-6.3],[65.7,-6.9],[65,-7.8],[66.9,-9.2],[63.9,-9.2],[65,-8.6],[64.5,-8.9],[64.2,-10.5],[66.4,-10.9],[63.4,-11.5],[64.8,-12.1],[63.6,-12.8],[63.4,-14.2],[64.5,-14.3],[65,-14.2],[64.1,-12.1],
];

const xTicks150 = [-80, -60, -40, -20, 0, 20, 40, 60, 80];
const yTicks150 = [-80, -60, -40, -20, 0, 20, 40, 60, 80];
const xTicks250 = [-100, -80, -60, -40, -20, 0, 20, 40, 60, 80];
const yTicks250 = [-80, -60, -40, -20, 0, 20, 40, 60, 80, 100];
const xTicks400 = [-80, -60, -40, -20, 0, 20, 40, 60, 80];
const yTicks400 = [-80, -60, -40, -20, 0, 20, 40, 60, 80, 100];
const xTicks500 = [-60, -40, -20, 0, 20, 40, 60, 80];
const yTicks500 = [-100, -80, -60, -40, -20, 0, 20, 40, 60, 80];

const toRows = (s: Pt[]) => s.map(([x, y]) => ({ x, y }));

// left/top/right/bottom of the plot box, the rest is legend placement on the page
const panels = [
  {
    title: "Sliding Window: 150 ms", plot: [77, 71, 1405, 1220], titleX: 741, titleY: 51, titleFont: 36,
    xDomain: [-80, 80], yDomain: [-80, 80], xTicks: xTicks150, yTicks: yTicks150, yGap: 15, dot: 4,
    lines: [doubleTap150, fingers150, fist150, noGesture150, waveOut150], dots: waveIn150,
    legend: { box: [1076, 963, 1403, 1214], marker: 1134, text: 1192, row: 987, step: 40.8, font: 29 },
  },
  {
    title: "Sliding Window: 250 ms", plot: [1805, 96, 3210, 1227], titleX: 2507, titleY: 75, titleFont: 38.5,
    xDomain: [-100, 85], yDomain: [-80, 100], xTicks: xTicks250, yTicks: yTicks250, yGap: 15, dot: 4.5,
    lines: [doubleTap250, fingers250, fist250, noGesture250, waveOut250], dots: waveIn250,
    legend: { box: [1823, 113, 2173, 377], marker: 1885, text: 1947, row: 139, step: 43, font: 31 },
  },
  {
    title: "Sliding Window: 400 ms", plot: [110, 1491, 1460, 2681], titleX: 780, titleY: 1470, titleFont: 38.5,
    xDomain: [-80, 80], yDomain: [-80, 100], xTicks: xTicks400, yTicks: yTicks400, yGap: 27, dot: 4.5,
    lines: [doubleTap400, fingers400, fist400, noGesture400, waveOut400], dots: waveIn400,
    legend: { box: [149, 1526, 494, 1787], marker: 210, text: 270, row: 1552, step: 42.4, font: 31 },
  },
  {
    title: "Sliding Window: 500 ms", plot: [1857, 1488, 3203, 2685], titleX: 2530, titleY: 1466, titleFont: 38.5,
    xDomain: [-62.5, 80], yDomain: [-100, 80], xTicks: xTicks500, yTicks: yTicks500, yGap: 17, dot: 4.5,
    lines: [doubleTap500, fingers500, fist500, noGesture500, waveOut500], dots: waveIn500,
    legend: { box: [2831, 2379, 3182, 2647], marker: 2893, text: 2954, row: 2405, step: 43.9, font: 31 },
  },
];

const PAD_LEFT = 100;
const PAD_TOP = 60;
const PAD_RIGHT = 20;
const PAD_BOTTOM = 70;

function LegendBox({ cfg }: any) {
  const [l, t, r, b] = cfg.box;
  return (
    <div style={{ position: "relative", width: r - l, height: b - t, boxSizing: "border-box", border: `2px solid ${INK}`, background: "#fff", fontFamily: FONT, fontSize: cfg.font, color: "#1a1a1a" }}>
      {GESTURES.map((name, i) => {
        const cy = cfg.row + i * cfg.step - t - 2;
        return (
          <div key={name}>
            <div style={{ position: "absolute", left: cfg.marker - l - 6, top: cy - 4, width: 8, height: 8, borderRadius: 4, background: COLORS[i] }} />
            <div style={{ position: "absolute", left: cfg.text - l - 2, top: cy - 17, lineHeight: "34px", whiteSpace: "nowrap" }}>{name}</div>
          </div>
        );
      })}
    </div>
  );
}

function Panel({ p }: any) {
  const [l, t, r, b] = p.plot;
  const width = r - l + PAD_LEFT + PAD_RIGHT;
  const height = b - t + PAD_TOP + PAD_BOTTOM;
  const originX = l - PAD_LEFT;
  const originY = t - PAD_TOP;
  const axisProps = { type: "number" as const, allowDataOverflow: true, interval: 0 as const };
  const lineAxis = { stroke: INK, strokeWidth: 2 };
  const tickFont = { fill: "#333", fontSize: 33, fontFamily: FONT };

  const series: any[] = [];
  p.lines.forEach((strokes: Stroke[], c: number) => {
    strokes.forEach((s, i) => {
      series.push(
        <Scatter
          key={`${c}-${i}`}
          name={GESTURES[c]}
          data={toRows(s)}
          xAxisId="x"
          yAxisId="y"
          fill={COLORS[c]}
          line={{ stroke: COLORS[c], strokeWidth: 7, strokeLinecap: "round", strokeLinejoin: "round" }}
          lineJointType="natural"
          legendType="none"
          isAnimationActive={false}
          shape={(d: any) => <circle cx={d.cx} cy={d.cy} r={3.5} fill={COLORS[c]} />}
        />
      );
    });
  });

  return (
    <div style={{ position: "absolute", left: originX, top: originY }}>
      <ScatterChart width={width} height={height} margin={{ top: PAD_TOP, right: PAD_RIGHT, bottom: 0, left: 0 }}>
        <XAxis {...axisProps} dataKey="x" xAxisId="x" orientation="bottom" domain={p.xDomain} ticks={p.xTicks} height={PAD_BOTTOM} axisLine={lineAxis} tickLine={false} tickSize={0} tickMargin={26} tick={tickFont} />
        <XAxis {...axisProps} xAxisId="xIn" orientation="bottom" mirror domain={p.xDomain} ticks={p.xTicks} axisLine={false} tickLine={lineAxis} tickSize={13} tick={false} />
        <XAxis {...axisProps} xAxisId="xTop" orientation="top" mirror domain={p.xDomain} ticks={p.xTicks} axisLine={lineAxis} tickLine={lineAxis} tickSize={13} tick={false} />
        <YAxis {...axisProps} dataKey="y" yAxisId="y" orientation="left" domain={p.yDomain} ticks={p.yTicks} width={PAD_LEFT} axisLine={lineAxis} tickLine={false} tickSize={0} tickMargin={p.yGap} tick={tickFont} />
        <YAxis {...axisProps} yAxisId="yIn" orientation="left" mirror domain={p.yDomain} ticks={p.yTicks} axisLine={false} tickLine={lineAxis} tickSize={13} tick={false} />
        <YAxis {...axisProps} yAxisId="yRight" orientation="right" mirror domain={p.yDomain} ticks={p.yTicks} axisLine={lineAxis} tickLine={lineAxis} tickSize={13} tick={false} />
        {series}
        <Scatter
          name={GESTURES[5]}
          data={toRows(p.dots)}
          xAxisId="x"
          yAxisId="y"
          fill={COLORS[5]}
          legendType="none"
          isAnimationActive={false}
          shape={(d: any) => <circle cx={d.cx} cy={d.cy} r={p.dot} fill={COLORS[5]} />}
        />
        <Legend
          layout="horizontal"
          verticalAlign="middle"
          wrapperStyle={{ left: p.legend.box[0] - originX, top: p.legend.box[1] - originY, width: p.legend.box[2] - p.legend.box[0], height: p.legend.box[3] - p.legend.box[1] }}
          content={() => <LegendBox cfg={p.legend} />}
        />
        <text x={p.titleX - originX} y={p.titleY - originY} textAnchor="middle" fontSize={p.titleFont} fontFamily={FONT} fill="#262626">{p.title}</text>
      </ScatterChart>
    </div>
  );
}

export default function App() {
  return (
    <div style={{ position: "absolute", left: 0, top: 0, width: 3246, height: 2768, background: "#fff" }}>
      {panels.map((p) => (
        <Panel key={p.title} p={p} />
      ))}
    </div>
  );
}
